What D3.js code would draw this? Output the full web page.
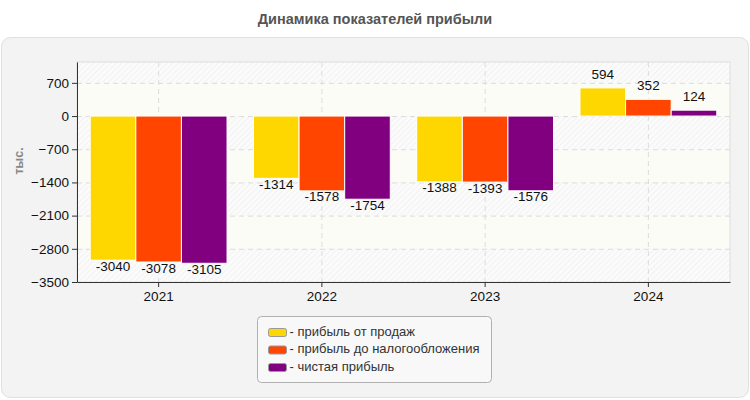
<!DOCTYPE html>
<html><head><meta charset="utf-8">
<script src="https://cdn.jsdelivr.net/npm/d3@7"></script>
<style>
body{margin:0;background:#fff;}
svg{display:block;font-family:"Liberation Sans",Arial,sans-serif;}
</style></head>
<body><svg id="c" width="750" height="400"></svg>
<script>
const title = "Динамика показателей прибыли";
const yAxisTitle = "тыс.";
const categories = ["2021","2022","2023","2024"];
const seriesNames = ["прибыль от продаж","прибыль до налогообложения","чистая прибыль"];
const seriesColors = ["#FFD700","#FF4500","#800080"];
const salesProfit = [-3040,-1314,-1388,594];
const pretaxProfit = [-3078,-1578,-1393,352];
const netProfit = [-3105,-1754,-1576,124];
const yTicks = [700,0,-700,-1400,-2100,-2800,-3500];
const seriesValues = [salesProfit, pretaxProfit, netProfit];

const svg = d3.select("#c");
const W = 750, H = 400;
const m = {left:77, right:20, top:62, bottom:118};
const pw = W - m.left - m.right, ph = H - m.top - m.bottom;

// defs: hatch
const defs = svg.append("defs");
const pat = defs.append("pattern").attr("id","hatch").attr("patternUnits","userSpaceOnUse")
  .attr("width",4).attr("height",4).attr("patternTransform","rotate(45)");
pat.append("rect").attr("width",4).attr("height",4).attr("fill","#fbfbfb");
pat.append("line").attr("x1",0).attr("y1",0).attr("x2",0).attr("y2",4).attr("stroke","#ececec").attr("stroke-width",1.2);

// title
svg.append("text").attr("x",W/2).attr("y",24).attr("text-anchor","middle")
  .attr("font-size",14.5).attr("font-weight","bold").attr("fill","#555").text(title);

// panel
svg.append("rect").attr("x",1.5).attr("y",37.5).attr("width",747).attr("height",360).attr("rx",9)
  .attr("fill","#f3f3f3").attr("stroke","#e0e0e0");

const g = svg.append("g").attr("transform",`translate(${m.left},${m.top})`);
const y = d3.scaleLinear().domain([-3500,1140]).range([ph,0]);
const x = d3.scaleBand().domain(categories).range([0,pw]);
const xs = d3.scaleBand().domain(seriesNames).range([0,x.bandwidth()]).paddingOuter(0.29);

// background bands
const bandEdges = [1140].concat(yTicks);
for (let i=0;i<bandEdges.length-1;i++){
  g.append("rect").attr("x",0).attr("width",pw)
   .attr("y",y(bandEdges[i])).attr("height",y(bandEdges[i+1])-y(bandEdges[i]))
   .attr("fill", i%2===0 ? "url(#hatch)" : "#fcfcf6");
}
// frame
g.append("rect").attr("x",0).attr("y",0).attr("width",pw).attr("height",ph)
  .attr("fill","none").attr("stroke","#dedede");

// gridlines
g.append("g").selectAll("line").data(yTicks).join("line")
  .attr("x1",0).attr("x2",pw).attr("y1",d=>y(d)+0.5).attr("y2",d=>y(d)+0.5)
  .attr("stroke","#dcdcdc").attr("stroke-dasharray","5,4");
g.append("g").selectAll("line").data(categories).join("line")
  .attr("x1",d=>x(d)+x.bandwidth()/2).attr("x2",d=>x(d)+x.bandwidth()/2)
  .attr("y1",0).attr("y2",ph)
  .attr("stroke","#dcdcdc").attr("stroke-dasharray","5,4");

// bars
const flat = [];
categories.forEach((c,i)=>seriesNames.forEach((s,j)=>flat.push({c,s,j,v:seriesValues[j][i]})));
g.append("g").selectAll("rect").data(flat).join("rect")
  .attr("x",d=>x(d.c)+xs(d.s))
  .attr("width",xs.bandwidth())
  .attr("y",d=>y(Math.max(0,d.v)))
  .attr("height",d=>Math.abs(y(d.v)-y(0)))
  .attr("fill",d=>seriesColors[d.j])
  .attr("stroke","#fff").attr("stroke-width",1);

// labels
g.append("g").selectAll("text").data(flat).join("text")
  .attr("x",d=>x(d.c)+xs(d.s)+xs.bandwidth()/2)
  .attr("y",d=>d.v<0 ? y(d.v)+7 : y(d.v)-9)
  .attr("dominant-baseline", d=>d.v<0 ? "middle" : "auto")
  .attr("text-anchor","middle").attr("font-size",13.5).attr("fill","#111")
  .text(d=>d.v);

// axes
const ya = g.append("g").call(d3.axisLeft(y).tickValues(yTicks).tickSize(5).tickSizeOuter(0).tickFormat(d3.format("d")));
ya.select(".domain").attr("stroke","#333");
ya.selectAll(".tick line").attr("stroke","#333");
ya.selectAll("text").attr("font-size",13.5).attr("fill","#111").attr("font-family","'Liberation Sans',Arial,sans-serif");

const xa = g.append("g").attr("transform",`translate(0,${ph})`).call(d3.axisBottom(x).tickSize(5).tickSizeOuter(0));
xa.select(".domain").attr("stroke","#333");
xa.selectAll(".tick line").attr("stroke","#333");
xa.selectAll("text").attr("font-size",13.5).attr("fill","#111").attr("dy","0.85em").attr("font-family","'Liberation Sans',Arial,sans-serif");

// y title
svg.append("text").attr("transform",`translate(23,${m.top+99}) rotate(-90)`)
  .attr("text-anchor","middle").attr("font-size",12.5).attr("font-weight","bold").attr("fill","#888").text(yAxisTitle);

// legend
const lg = svg.append("g").attr("transform","translate(257.5,316.5)");
lg.append("rect").attr("width",234).attr("height",66).attr("rx",4)
  .attr("fill","#f8f8f8").attr("stroke","#b0b0b0");
const li = lg.selectAll("g").data(seriesNames).join("g")
  .attr("transform",(d,i)=>`translate(11,${12+i*17.5})`);
li.append("rect").attr("width",18).attr("height",8).attr("rx",2)
  .attr("fill",(d,i)=>seriesColors[i]).attr("stroke","#999");
li.append("text").attr("x",21).attr("y",4).attr("dominant-baseline","middle")
  .attr("font-size",13).attr("fill","#333").text(d=>"- "+d);
</script></body></html>
